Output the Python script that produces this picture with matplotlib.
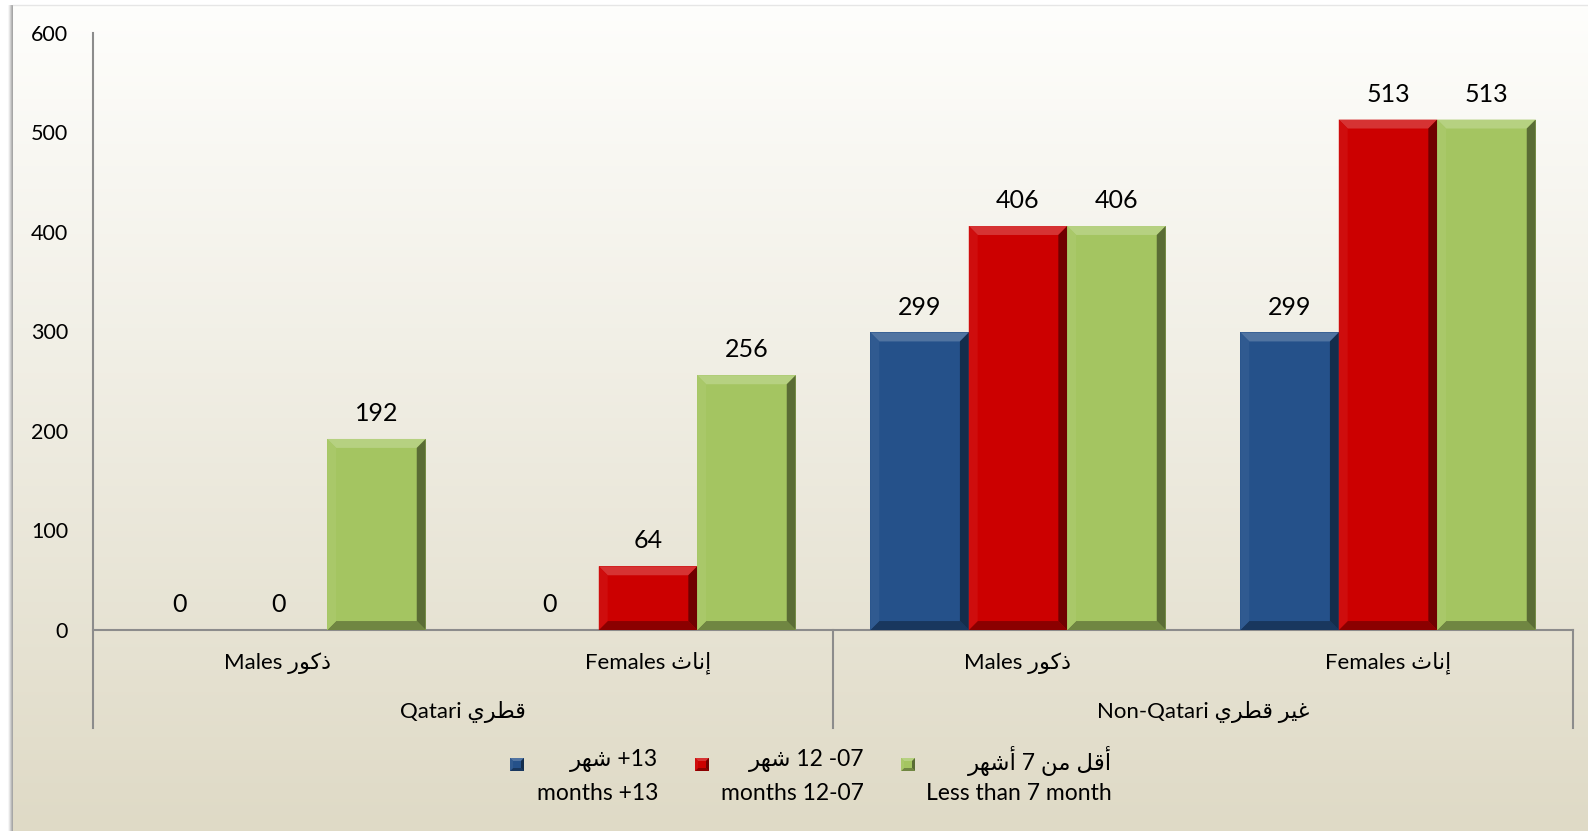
import numpy as np
import matplotlib
matplotlib.use('Agg')
import matplotlib.pyplot as plt
from matplotlib.patches import Polygon, Rectangle
from matplotlib.colors import to_rgb

plt.rcParams['font.family'] = ['Lato', 'DejaVu Sans']

# Arabic words written in presentation forms, already in visual (left to right) order
# because matplotlib does no shaping / bidi
AR_DHUKUR = '\uFEAD\uFEEE\uFEDB\uFEAB'        # ذكور
AR_INATH = '\uFE99\uFE8E\uFEE7\uFE87'         # إناث
AR_QATARI = '\uFEF1\uFEAE\uFEC4\uFED7'        # قطري
AR_GHAYR = '\uFEAE\uFEF4\uFECF'               # غير
AR_SHAHR = '\uFEAE\uFEEC\uFEB7'               # شهر
AR_ASHHUR = '\uFEAE\uFEEC\uFEB7\uFE83'        # أشهر
AR_MIN = '\uFEE6\uFEE3'                       # من
AR_AQALL = '\uFEDE\uFED7\uFE83'               # أقل

# data
sub_labels = ['Males ' + AR_DHUKUR, 'Females ' + AR_INATH,
              'Males ' + AR_DHUKUR, 'Females ' + AR_INATH]
outer_labels = ['Qatari ' + AR_QATARI, 'Non-Qatari ' + AR_QATARI + ' ' + AR_GHAYR]
over13 = [0, 0, 299, 299]
m07_12 = [0, 64, 406, 513]
less7 = [192, 256, 406, 513]
yticks = [0, 100, 200, 300, 400, 500, 600]

series = [over13, m07_12, less7]
colors = ['#25518a', '#cc0000', '#a4c561']
legend_l1 = [AR_SHAHR + ' +13', AR_SHAHR + ' 12 -07',
             AR_ASHHUR + ' 7 ' + AR_MIN + ' ' + AR_AQALL]
legend_l2 = ['months +13', 'months 12-07', 'Less than 7 month']


def mix(c, other, t):
    c = np.array(to_rgb(c))
    return tuple(c + (np.array(other) - c) * t)


def bevel(target, x0, y0, x1, y1, dx, dy, color, transform, z=3):
    # flat face plus four bevel strips (light on top/left, dark on bottom/right)
    target.add_patch(Rectangle((x0, y0), x1 - x0, y1 - y0, facecolor=color,
                               edgecolor='none', transform=transform, zorder=z))
    strips = [
        ([(x0, y1), (x1, y1), (x1 - dx, y1 - dy), (x0 + dx, y1 - dy)], mix(color, (1, 1, 1), 0.2)),
        ([(x0, y0), (x1, y0), (x1 - dx, y0 + dy), (x0 + dx, y0 + dy)], mix(color, (0, 0, 0), 0.32)),
        ([(x0, y0), (x0 + dx, y0 + dy), (x0 + dx, y1 - dy), (x0, y1)], mix(color, (1, 1, 1), 0.05)),
        ([(x1, y0), (x1 - dx, y0 + dy), (x1 - dx, y1 - dy), (x1, y1)], mix(color, (0, 0, 0), 0.45)),
    ]
    for pts, col in strips:
        target.add_patch(Polygon(pts, closed=True, facecolor=col, edgecolor='none',
                                 transform=transform, zorder=z + 0.1))


W, H = 1588, 831
fig = plt.figure(figsize=(W / 100, H / 100), dpi=100)
fig.patch.set_facecolor('white')

# panel background with left shadow and vertical gradient
bg = fig.add_axes([0, 0, 1, 1], zorder=-10)
bg.set_xlim(0, W)
bg.set_ylim(0, H)
bg.axis('off')
for i, a in enumerate([0.08, 0.15, 0.25, 0.35, 0.45]):
    bg.add_patch(Rectangle((8 + i, 0), 6, H - 5, facecolor='#909090', alpha=a, edgecolor='none'))
grad = np.linspace(0, 1, 256)[:, None]
top = np.array([254, 254, 252]) / 255
bot = np.array([223, 218, 198]) / 255
img = top + (bot - top) * grad[..., None]
bg.imshow(img, extent=(13, W, 0, H - 5), aspect='auto', origin='upper', zorder=1)
bg.plot([13, W], [H - 4.5, H - 4.5], color='#e6e6e6', lw=1, zorder=2)

ax = fig.add_axes([93 / W, (H - 630) / H, (1573 - 93) / W, (630 - 33) / H])
ax.set_facecolor('none')
x = np.arange(len(sub_labels))
bw = 0.266
ax.set_xlim(-0.5, len(sub_labels) - 0.5)
ax.set_ylim(0, 600)

for k, (vals, col) in enumerate(zip(series, colors)):
    bars = ax.bar(x + (k - 1) * bw, vals, bw, color='none', edgecolor='none', zorder=2)
    for b in bars:
        if b.get_height() > 0:
            bevel(ax, b.get_x(), 0, b.get_x() + b.get_width(), b.get_height(),
                  0.024, 9, col, ax.transData)
    ax.bar_label(bars, padding=10, fontsize=18, color='black')

ax.set_yticks(yticks)
ax.set_xticks([])
ax.tick_params(axis='y', length=0, pad=18, labelsize=15.5, labelcolor='black')
for s in ['top', 'right', 'left']:
    ax.spines[s].set_visible(False)
ax.spines['bottom'].set_color('#8c8c8c')
ax.spines['bottom'].set_linewidth(1.5)

# multi-level category axis
xt = ax.get_xaxis_transform()
ylow = -98 / 597
ax.plot([-0.5, -0.5], [ylow, 1], color='#8c8c8c', lw=1.5, transform=xt, clip_on=False)
for xv in [1.5, 3.5]:
    ax.plot([xv, xv], [ylow, 0], color='#8c8c8c', lw=1.5, transform=xt, clip_on=False)
for xi, lab in zip(x, sub_labels):
    ax.text(xi, -33 / 597, lab, ha='center', va='center', fontsize=16, transform=xt)
for gi, lab in enumerate(outer_labels):
    ax.text(0.5 + 2 * gi, -82 / 597, lab, ha='center', va='center', fontsize=16, transform=xt)

# legend drawn by hand: bevelled square + two right-aligned lines
marker_x = [510, 695, 901]
text_right = [658, 864, 1112]
for mx, tr, col, l1, l2 in zip(marker_x, text_right, colors, legend_l1, legend_l2):
    bevel(bg, mx, H - 771, mx + 14, H - 758, 3, 3, col, bg.transData, z=5)
    bg.text(tr, H - 761, l1, ha='right', va='center', fontsize=16.5, zorder=6)
    bg.text(tr, H - 793, l2, ha='right', va='center', fontsize=16.5, zorder=6)

fig.savefig('out.png', dpi=100)
